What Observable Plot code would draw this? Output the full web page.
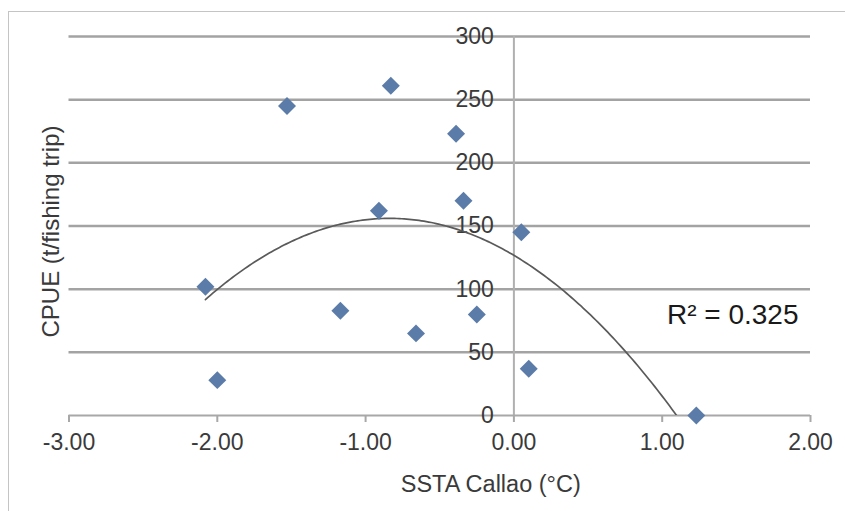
<!DOCTYPE html>
<html>
<head>
<meta charset="utf-8">
<script src="https://cdn.jsdelivr.net/npm/d3@7"></script>
<script src="https://cdn.jsdelivr.net/npm/@observablehq/plot@0.6"></script>
<style>
  html, body { margin: 0; padding: 0; background: #fff; overflow: hidden; }
  #wrap { position: relative; width: 845px; height: 511px; }
  #border { position: absolute; left: 8px; top: 11px; width: 900px; height: 600px; border: 1px solid #c4c4c4; box-sizing: border-box; }
  #chart { position: absolute; left: 0; top: 0; }
</style>
</head>
<body>
<div id="wrap"><div id="border"></div><div id="chart"></div></div>
<script>
// Observed data (SSTA Callao vs CPUE)
const sstaCallao = [-2.08, -2.00, -1.53, -1.17, -0.91, -0.83, -0.66, -0.39, -0.34, -0.25, 0.05, 0.10, 1.23];
const cpue       = [102, 28, 245, 83, 162, 261, 65, 223, 170, 80, 145, 37, 0];
const xTicks = [-3, -2, -1, 0, 1, 2];
const yTicks = [0, 50, 100, 150, 200, 250, 300];
const r2Label = "R² = 0.325";
const xTitle = "SSTA Callao (°C)";
const yTitle = "CPUE (t/fishing trip)";

const points = sstaCallao.map((x, i) => ({x, y: cpue[i]}));

// Quadratic least-squares trendline (as computed by the spreadsheet)
function quadFit(xs, ys) {
  const S = k => d3.sum(xs, x => x ** k);
  const T = k => d3.sum(xs, (x, i) => x ** k * ys[i]);
  const A = [[S(0), S(1), S(2), T(0)], [S(1), S(2), S(3), T(1)], [S(2), S(3), S(4), T(2)]];
  for (let c = 0; c < 3; c++) {
    for (let r = c + 1; r < 3; r++) {
      const f = A[r][c] / A[c][c];
      for (let k = c; k < 4; k++) A[r][k] -= f * A[c][k];
    }
  }
  const b = [0, 0, 0];
  for (let r = 2; r >= 0; r--) {
    let s = A[r][3];
    for (let k = r + 1; k < 3; k++) s -= A[r][k] * b[k];
    b[r] = s / A[r][r];
  }
  return b;
}
const [c0, c1, c2] = quadFit(sstaCallao, cpue);
const [xmin, xmax] = d3.extent(sstaCallao);
const trend = d3.range(201).map(i => {
  const x = xmin + (xmax - xmin) * i / 200;
  return {x, y: c0 + c1 * x + c2 * x * x};
});

const font = "'Liberation Sans', Arial, sans-serif";
const textColor = "#3a3a3a";

const chart = Plot.plot({
  width: 845,
  height: 511,
  marginLeft: 68.5,
  marginRight: 35,
  marginTop: 36,
  marginBottom: 96,
  style: {fontFamily: font, fontSize: "23px", background: "transparent", color: textColor},
  x: {domain: [-3, 2], axis: null},
  y: {domain: [0, 300], axis: null},
  marks: [
    Plot.ruleY(yTicks.filter(d => d > 0), {stroke: "#a3a3a3", strokeWidth: 2.5}),
    Plot.ruleX([0], {y1: 0, y2: 300, stroke: "#b0b0b0", strokeWidth: 2}),
    Plot.ruleY([0], {stroke: "#a8a8a8", strokeWidth: 2}),
    Plot.axisX({ticks: xTicks, tickSize: 7, tickPadding: 11, tickFormat: d => d.toFixed(2),
                stroke: "#a8a8a8", strokeWidth: 2, fill: textColor, fontSize: 23, label: null}),
    Plot.text(yTicks, {x: 0, y: d => d, text: d => String(d), textAnchor: "end", dx: -20,
                       fill: textColor, fontSize: 23}),
    Plot.line(trend, {x: "x", y: "y", stroke: "#5a5a5a", strokeWidth: 1.7, clip: true}),
    Plot.dot(points, {x: "x", y: "y", symbol: "diamond2", r: 8.1, fill: "#5b7ca8", stroke: "none"}),
    Plot.text([r2Label], {frameAnchor: "top-right", dx: -12, dy: 279, textAnchor: "end", lineAnchor: "middle",
                          fontSize: 28, fill: "#1a1a1a"}),
    Plot.text([xTitle], {frameAnchor: "bottom", dx: 51, dy: 69, textAnchor: "middle", lineAnchor: "middle",
                         fontSize: 23.5, fill: textColor}),
    Plot.text([yTitle], {frameAnchor: "left", rotate: -90, dx: -17.5, dy: 5.5, textAnchor: "middle", lineAnchor: "middle",
                         fontSize: 24, fill: textColor})
  ]
});
document.getElementById("chart").append(chart);
</script>
</body>
</html>
